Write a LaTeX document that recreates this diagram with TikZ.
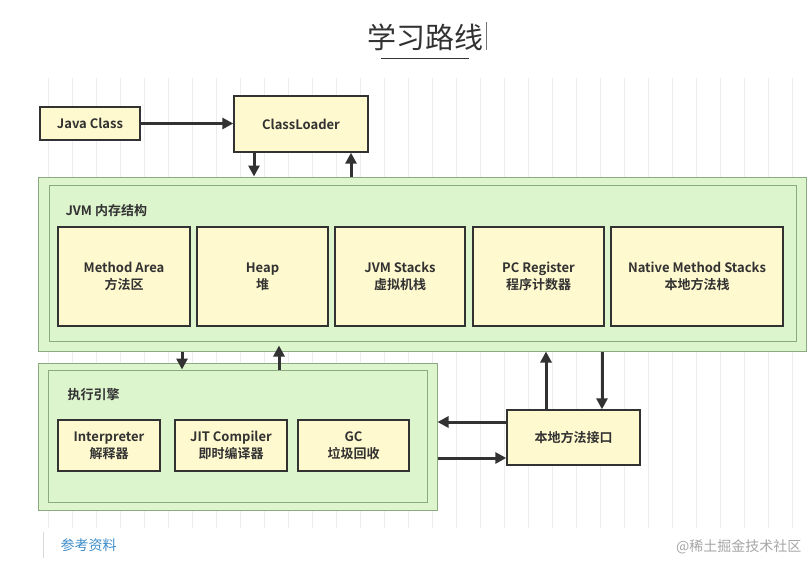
\documentclass[tikz,border=0pt]{standalone}
\usepackage{fontspec}
\setmainfont{Noto Sans CJK SC}[BoldFont={Noto Sans CJK SC Bold}]
\usepackage{xcolor}
\usetikzlibrary{arrows.meta,calc,positioning}
\definecolor{boxyellow}{RGB}{254,249,206}
\definecolor{boxgreen}{RGB}{221,245,205}
\definecolor{greenline}{RGB}{140,170,130}
\definecolor{inkgray}{RGB}{50,50,50}
\definecolor{linkblue}{RGB}{60,140,200}
\tikzset{
  yellowbox/.style={draw=inkgray, line width=1.4pt, fill=boxyellow, inner sep=0pt,
    align=center, text=inkgray, font=\bfseries\fontsize{13}{17}\selectfont},
  greenbox/.style={draw=greenline, line width=1pt, fill=boxgreen, inner sep=0pt},
  arr/.style={draw=inkgray, line width=3pt, -{Triangle[length=11pt,width=11pt]}},
  boxlabel/.style={anchor=west, text=inkgray, font=\bfseries\fontsize{13}{15}\selectfont}
}
\begin{document}
\begin{tikzpicture}[x=1pt,y=-1pt]
            \useasboundingbox (0,0) rectangle (808,562);
            \fill[white] (0,0) rectangle (808,562);
            % faint grid behind the diagram
            \draw[black!7, line width=0.5pt, step=24] (30,78) grid (808,528);
            % title
            \node[text=inkgray, font=\fontsize{29}{32}\selectfont] (title) at (425,37) {学习路线};
            \coordinate (ulL) at (381,58);
            \coordinate (ulR) at (469,58);
            \draw[inkgray, line width=0.8pt] (ulL) -- (ulR);
            \coordinate (curT) at (486,22);
            \coordinate (curB) at (486,50);
            \draw[black!55, line width=1pt] (curT) -- (curB);
            % loading
            \node[yellowbox, minimum width=100, minimum height=33] (jc) at (90,123.5) {Java Class};
            \node[yellowbox, minimum width=134, minimum height=56] (cl) at (301,124) {ClassLoader};
            % runtime memory
            \node[greenbox, minimum width=768, minimum height=174] (jvm) at (422,264) {};
            \node[greenbox, minimum width=747, minimum height=156] (jvmin) at (422.5,263) {};
            \node[boxlabel] (jvmlbl) at (62,211) {JVM 内存结构};
            \node[yellowbox, minimum width=132, minimum height=99] (ma) at (124,276.5) {Method Area\\方法区};
            \node[yellowbox, minimum width=131, minimum height=99] (heap) at (262.5,276.5) {Heap\\堆};
            \node[yellowbox, minimum width=130, minimum height=99] (stk) at (400,276.5) {JVM Stacks\\虚拟机栈};
            \node[yellowbox, minimum width=131, minimum height=99] (pc) at (538.5,276.5) {PC Register\\程序计数器};
            \node[yellowbox, minimum width=172, minimum height=99] (nms) at (697,276.5) {Native Method Stacks\\本地方法栈};
            % execution engine
            \node[greenbox, minimum width=399, minimum height=147] (exec) at (237.5,436.5) {};
            \node[greenbox, minimum width=379, minimum height=132] (execin) at (237.5,436) {};
            \node[boxlabel] (execlbl) at (64,395) {执行引擎};
            \node[yellowbox, minimum width=102, minimum height=51] (interp) at (109,445.5) {Interpreter\\解释器};
            \node[yellowbox, minimum width=112, minimum height=51] (jit) at (231,445.5) {JIT Compiler\\即时编译器};
            \node[yellowbox, minimum width=111, minimum height=51] (gc) at (353.5,445.5) {GC\\垃圾回收};
            \node[yellowbox, minimum width=133, minimum height=55] (jni) at (573.5,437.5) {本地方法接口};
            % connectors
            \draw[arr] (jc.east) -- (cl.west |- jc.east);
            \coordinate (clA) at ($(cl.south)+(-47,0)$);
            \coordinate (clB) at ($(cl.south)+(50,0)$);
            \draw[arr] (clA) -- (clA |- jvm.north);
            \draw[arr] (clB |- jvm.north) -- (clB);
            \coordinate (exA) at (182,0);
            \coordinate (exB) at (279,0);
            \draw[arr] (exA |- jvm.south) -- (exA |- execin.north);
            \draw[arr, shorten >=-6pt] (exB |- execin.north) -- (exB |- jvm.south);
            \coordinate (jnA) at ($(jni.north)+(-27.5,0)$);
            \coordinate (jnB) at ($(jni.north)+(28.5,0)$);
            \draw[arr] (jnA) -- (jnA |- jvm.south);
            \draw[arr] (jnB |- jvm.south) -- (jnB);
            \coordinate (jnL) at ($(jni.west)+(0,-15.5)$);
            \coordinate (jnR) at ($(jni.west)+(0,20.5)$);
            \draw[arr] (jnL) -- (exec.east |- jnL);
            \draw[arr] (exec.east |- jnR) -- (jnR);
            % footer
            \coordinate (barT) at (43,532);
            \coordinate (barB) at (43,558);
            \draw[black!15, line width=1pt] (barT) -- (barB);
            \node[anchor=west, text=linkblue, font=\fontsize{14}{16}\selectfont] (ref) at (57,545) {参考资料};
            \node[anchor=east, text=black!35, font=\fontsize{14}{16}\selectfont] (mark) at (805,547) {@稀土掘金技术社区};
        \end{tikzpicture}
\end{document}
